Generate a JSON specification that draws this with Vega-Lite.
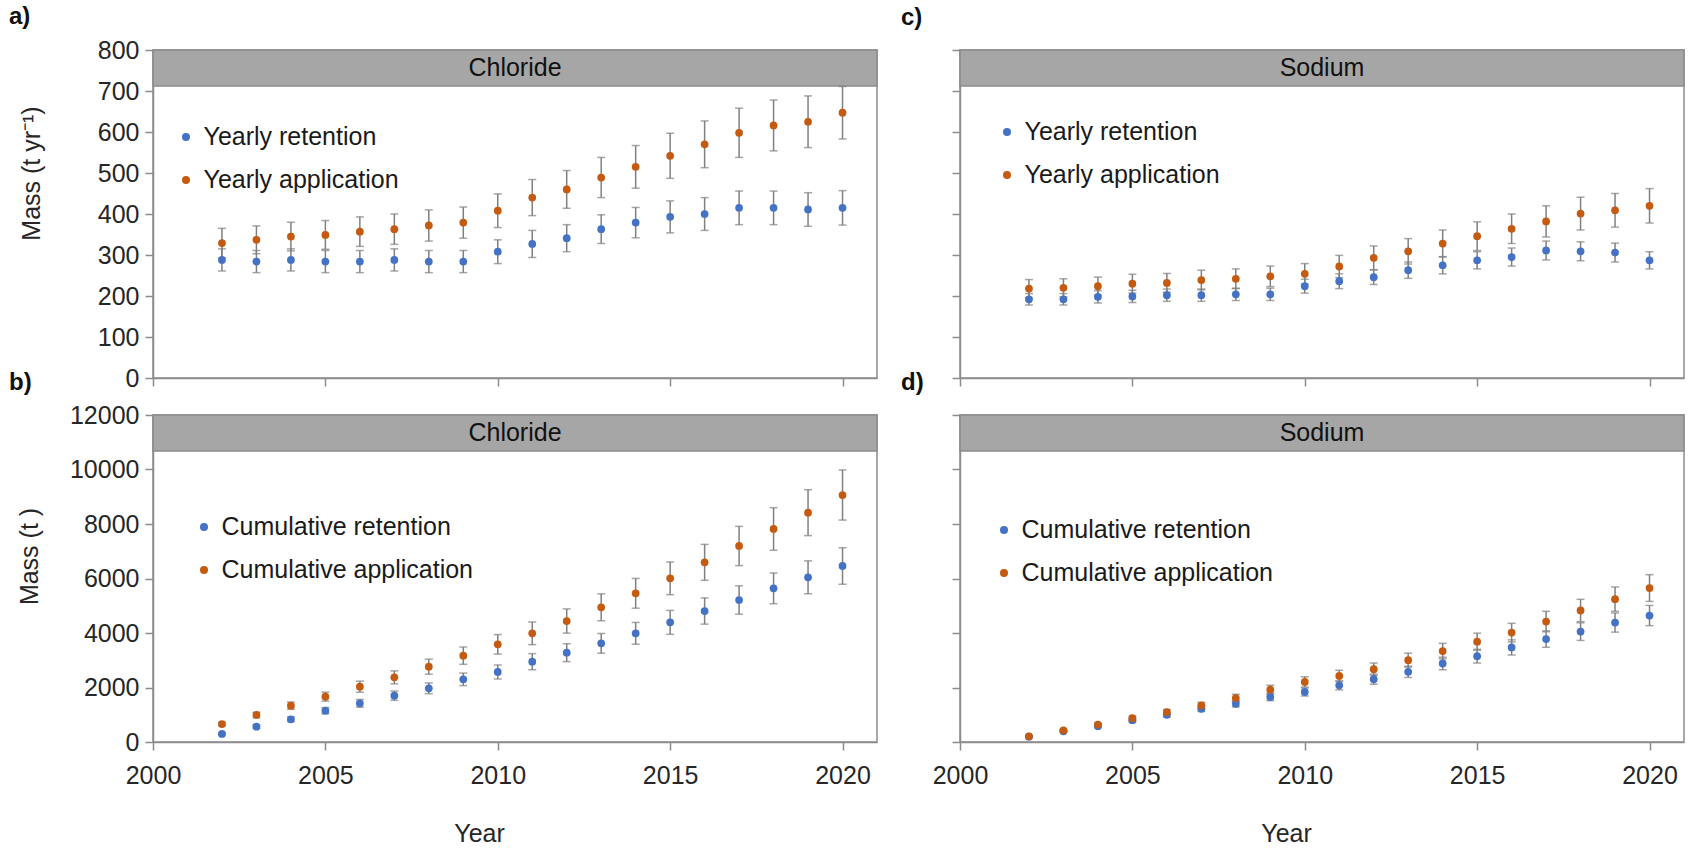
{
  "$schema": "https://vega.github.io/schema/vega-lite/v6.json",
  "padding": {"left": 8, "top": 4, "right": 4, "bottom": 4},
  "bounds": "flush",
  "columns": 2,
  "spacing": {"row": 37, "column": 83},
  "resolve": {"scale": {"color": "independent"}, "legend": {"color": "independent"}},
  "config": {
    "font": "Liberation Sans",
    "view": {"stroke": "#8c8c8c", "strokeWidth": 1.5},
    "title": {"anchor": "start", "frame": "group", "fontSize": 24, "fontWeight": "bold", "color": "#111111"},
    "axis": {
      "grid": false,
      "domainColor": "#8c8c8c", "domainWidth": 1.5,
      "tickColor": "#8c8c8c", "tickWidth": 1.5, "tickSize": 8,
      "labelFontSize": 25, "labelColor": "#262626", "labelPadding": 6,
      "labelFlush": false, "labelOverlap": false, "labelBound": false,
      "titleFontSize": 25, "titleFontWeight": "normal", "titleColor": "#262626",
      "titleBaseline": "middle", "titleAlign": "center", "minExtent": 0
    },
    "axisX": {"labelPadding": 13},
    "legend": {"orient": "none", "title": null, "symbolType": "circle", "symbolSize": 64, "symbolStrokeWidth": 0, "labelFontSize": 25, "labelColor": "#1a1a1a", "labelOffset": 5, "labelLimit": 600, "rowPadding": 17, "padding": 0}
  },
  "datasets": {
    "headers": [
      {"panel": "a", "element": "Chloride"},
      {"panel": "b", "element": "Chloride"},
      {"panel": "c", "element": "Sodium"},
      {"panel": "d", "element": "Sodium"}
    ],
    "mass": [
      {"panel": "a", "series": "Yearly retention", "year": 2002, "value": 288, "lo": 261, "hi": 315},
      {"panel": "a", "series": "Yearly retention", "year": 2003, "value": 284, "lo": 257, "hi": 311},
      {"panel": "a", "series": "Yearly retention", "year": 2004, "value": 288, "lo": 261, "hi": 315},
      {"panel": "a", "series": "Yearly retention", "year": 2005, "value": 284, "lo": 257, "hi": 311},
      {"panel": "a", "series": "Yearly retention", "year": 2006, "value": 284, "lo": 257, "hi": 311},
      {"panel": "a", "series": "Yearly retention", "year": 2007, "value": 288, "lo": 261, "hi": 315},
      {"panel": "a", "series": "Yearly retention", "year": 2008, "value": 284, "lo": 257, "hi": 311},
      {"panel": "a", "series": "Yearly retention", "year": 2009, "value": 284, "lo": 257, "hi": 311},
      {"panel": "a", "series": "Yearly retention", "year": 2010, "value": 308, "lo": 279, "hi": 337},
      {"panel": "a", "series": "Yearly retention", "year": 2011, "value": 327, "lo": 294, "hi": 360},
      {"panel": "a", "series": "Yearly retention", "year": 2012, "value": 341, "lo": 308, "hi": 374},
      {"panel": "a", "series": "Yearly retention", "year": 2013, "value": 363, "lo": 328, "hi": 398},
      {"panel": "a", "series": "Yearly retention", "year": 2014, "value": 379, "lo": 342, "hi": 416},
      {"panel": "a", "series": "Yearly retention", "year": 2015, "value": 393, "lo": 354, "hi": 432},
      {"panel": "a", "series": "Yearly retention", "year": 2016, "value": 400, "lo": 360, "hi": 440},
      {"panel": "a", "series": "Yearly retention", "year": 2017, "value": 415, "lo": 374, "hi": 456},
      {"panel": "a", "series": "Yearly retention", "year": 2018, "value": 415, "lo": 374, "hi": 456},
      {"panel": "a", "series": "Yearly retention", "year": 2019, "value": 411, "lo": 370, "hi": 452},
      {"panel": "a", "series": "Yearly retention", "year": 2020, "value": 415, "lo": 373, "hi": 457},
      {"panel": "a", "series": "Yearly application", "year": 2002, "value": 329, "lo": 293, "hi": 365},
      {"panel": "a", "series": "Yearly application", "year": 2003, "value": 337, "lo": 303, "hi": 371},
      {"panel": "a", "series": "Yearly application", "year": 2004, "value": 345, "lo": 310, "hi": 380},
      {"panel": "a", "series": "Yearly application", "year": 2005, "value": 349, "lo": 314, "hi": 384},
      {"panel": "a", "series": "Yearly application", "year": 2006, "value": 357, "lo": 321, "hi": 393},
      {"panel": "a", "series": "Yearly application", "year": 2007, "value": 363, "lo": 326, "hi": 400},
      {"panel": "a", "series": "Yearly application", "year": 2008, "value": 372, "lo": 334, "hi": 410},
      {"panel": "a", "series": "Yearly application", "year": 2009, "value": 379, "lo": 341, "hi": 417},
      {"panel": "a", "series": "Yearly application", "year": 2010, "value": 408, "lo": 367, "hi": 449},
      {"panel": "a", "series": "Yearly application", "year": 2011, "value": 440, "lo": 396, "hi": 484},
      {"panel": "a", "series": "Yearly application", "year": 2012, "value": 460, "lo": 414, "hi": 506},
      {"panel": "a", "series": "Yearly application", "year": 2013, "value": 489, "lo": 440, "hi": 538},
      {"panel": "a", "series": "Yearly application", "year": 2014, "value": 515, "lo": 463, "hi": 567},
      {"panel": "a", "series": "Yearly application", "year": 2015, "value": 542, "lo": 487, "hi": 597},
      {"panel": "a", "series": "Yearly application", "year": 2016, "value": 570, "lo": 513, "hi": 627},
      {"panel": "a", "series": "Yearly application", "year": 2017, "value": 598, "lo": 538, "hi": 658},
      {"panel": "a", "series": "Yearly application", "year": 2018, "value": 616, "lo": 554, "hi": 678},
      {"panel": "a", "series": "Yearly application", "year": 2019, "value": 625, "lo": 562, "hi": 688},
      {"panel": "a", "series": "Yearly application", "year": 2020, "value": 647, "lo": 583, "hi": 711},

      {"panel": "c", "series": "Yearly retention", "year": 2002, "value": 192, "lo": 178, "hi": 206},
      {"panel": "c", "series": "Yearly retention", "year": 2003, "value": 192, "lo": 178, "hi": 206},
      {"panel": "c", "series": "Yearly retention", "year": 2004, "value": 198, "lo": 183, "hi": 213},
      {"panel": "c", "series": "Yearly retention", "year": 2005, "value": 199, "lo": 184, "hi": 214},
      {"panel": "c", "series": "Yearly retention", "year": 2006, "value": 202, "lo": 187, "hi": 217},
      {"panel": "c", "series": "Yearly retention", "year": 2007, "value": 202, "lo": 187, "hi": 217},
      {"panel": "c", "series": "Yearly retention", "year": 2008, "value": 204, "lo": 189, "hi": 219},
      {"panel": "c", "series": "Yearly retention", "year": 2009, "value": 204, "lo": 189, "hi": 219},
      {"panel": "c", "series": "Yearly retention", "year": 2010, "value": 224, "lo": 207, "hi": 241},
      {"panel": "c", "series": "Yearly retention", "year": 2011, "value": 236, "lo": 218, "hi": 254},
      {"panel": "c", "series": "Yearly retention", "year": 2012, "value": 246, "lo": 228, "hi": 264},
      {"panel": "c", "series": "Yearly retention", "year": 2013, "value": 263, "lo": 243, "hi": 283},
      {"panel": "c", "series": "Yearly retention", "year": 2014, "value": 275, "lo": 254, "hi": 296},
      {"panel": "c", "series": "Yearly retention", "year": 2015, "value": 287, "lo": 266, "hi": 308},
      {"panel": "c", "series": "Yearly retention", "year": 2016, "value": 295, "lo": 273, "hi": 317},
      {"panel": "c", "series": "Yearly retention", "year": 2017, "value": 311, "lo": 288, "hi": 334},
      {"panel": "c", "series": "Yearly retention", "year": 2018, "value": 309, "lo": 286, "hi": 332},
      {"panel": "c", "series": "Yearly retention", "year": 2019, "value": 306, "lo": 283, "hi": 329},
      {"panel": "c", "series": "Yearly retention", "year": 2020, "value": 287, "lo": 266, "hi": 308},
      {"panel": "c", "series": "Yearly application", "year": 2002, "value": 218, "lo": 196, "hi": 240},
      {"panel": "c", "series": "Yearly application", "year": 2003, "value": 220, "lo": 198, "hi": 242},
      {"panel": "c", "series": "Yearly application", "year": 2004, "value": 224, "lo": 202, "hi": 246},
      {"panel": "c", "series": "Yearly application", "year": 2005, "value": 230, "lo": 207, "hi": 253},
      {"panel": "c", "series": "Yearly application", "year": 2006, "value": 232, "lo": 209, "hi": 255},
      {"panel": "c", "series": "Yearly application", "year": 2007, "value": 239, "lo": 215, "hi": 263},
      {"panel": "c", "series": "Yearly application", "year": 2008, "value": 242, "lo": 218, "hi": 266},
      {"panel": "c", "series": "Yearly application", "year": 2009, "value": 248, "lo": 223, "hi": 273},
      {"panel": "c", "series": "Yearly application", "year": 2010, "value": 254, "lo": 229, "hi": 279},
      {"panel": "c", "series": "Yearly application", "year": 2011, "value": 272, "lo": 245, "hi": 299},
      {"panel": "c", "series": "Yearly application", "year": 2012, "value": 293, "lo": 264, "hi": 322},
      {"panel": "c", "series": "Yearly application", "year": 2013, "value": 309, "lo": 278, "hi": 340},
      {"panel": "c", "series": "Yearly application", "year": 2014, "value": 328, "lo": 295, "hi": 361},
      {"panel": "c", "series": "Yearly application", "year": 2015, "value": 346, "lo": 311, "hi": 381},
      {"panel": "c", "series": "Yearly application", "year": 2016, "value": 364, "lo": 328, "hi": 400},
      {"panel": "c", "series": "Yearly application", "year": 2017, "value": 382, "lo": 344, "hi": 420},
      {"panel": "c", "series": "Yearly application", "year": 2018, "value": 401, "lo": 361, "hi": 441},
      {"panel": "c", "series": "Yearly application", "year": 2019, "value": 409, "lo": 368, "hi": 450},
      {"panel": "c", "series": "Yearly application", "year": 2020, "value": 420, "lo": 378, "hi": 462},

      {"panel": "b", "series": "Cumulative retention", "year": 2002, "value": 294, "lo": 264, "hi": 324},
      {"panel": "b", "series": "Cumulative retention", "year": 2003, "value": 562, "lo": 506, "hi": 618},
      {"panel": "b", "series": "Cumulative retention", "year": 2004, "value": 833, "lo": 750, "hi": 916},
      {"panel": "b", "series": "Cumulative retention", "year": 2005, "value": 1150, "lo": 1035, "hi": 1265},
      {"panel": "b", "series": "Cumulative retention", "year": 2006, "value": 1419, "lo": 1277, "hi": 1561},
      {"panel": "b", "series": "Cumulative retention", "year": 2007, "value": 1700, "lo": 1530, "hi": 1870},
      {"panel": "b", "series": "Cumulative retention", "year": 2008, "value": 1970, "lo": 1773, "hi": 2167},
      {"panel": "b", "series": "Cumulative retention", "year": 2009, "value": 2300, "lo": 2070, "hi": 2530},
      {"panel": "b", "series": "Cumulative retention", "year": 2010, "value": 2569, "lo": 2312, "hi": 2826},
      {"panel": "b", "series": "Cumulative retention", "year": 2011, "value": 2948, "lo": 2653, "hi": 3243},
      {"panel": "b", "series": "Cumulative retention", "year": 2012, "value": 3278, "lo": 2950, "hi": 3606},
      {"panel": "b", "series": "Cumulative retention", "year": 2013, "value": 3621, "lo": 3259, "hi": 3983},
      {"panel": "b", "series": "Cumulative retention", "year": 2014, "value": 3988, "lo": 3589, "hi": 4387},
      {"panel": "b", "series": "Cumulative retention", "year": 2015, "value": 4391, "lo": 3952, "hi": 4830},
      {"panel": "b", "series": "Cumulative retention", "year": 2016, "value": 4807, "lo": 4326, "hi": 5288},
      {"panel": "b", "series": "Cumulative retention", "year": 2017, "value": 5211, "lo": 4690, "hi": 5732},
      {"panel": "b", "series": "Cumulative retention", "year": 2018, "value": 5639, "lo": 5075, "hi": 6203},
      {"panel": "b", "series": "Cumulative retention", "year": 2019, "value": 6043, "lo": 5439, "hi": 6647},
      {"panel": "b", "series": "Cumulative retention", "year": 2020, "value": 6459, "lo": 5789, "hi": 7129},
      {"panel": "b", "series": "Cumulative application", "year": 2002, "value": 660, "lo": 594, "hi": 726},
      {"panel": "b", "series": "Cumulative application", "year": 2003, "value": 991, "lo": 892, "hi": 1090},
      {"panel": "b", "series": "Cumulative application", "year": 2004, "value": 1333, "lo": 1200, "hi": 1466},
      {"panel": "b", "series": "Cumulative application", "year": 2005, "value": 1664, "lo": 1498, "hi": 1830},
      {"panel": "b", "series": "Cumulative application", "year": 2006, "value": 2030, "lo": 1827, "hi": 2233},
      {"panel": "b", "series": "Cumulative application", "year": 2007, "value": 2373, "lo": 2136, "hi": 2610},
      {"panel": "b", "series": "Cumulative application", "year": 2008, "value": 2764, "lo": 2488, "hi": 3040},
      {"panel": "b", "series": "Cumulative application", "year": 2009, "value": 3168, "lo": 2851, "hi": 3485},
      {"panel": "b", "series": "Cumulative application", "year": 2010, "value": 3584, "lo": 3226, "hi": 3942},
      {"panel": "b", "series": "Cumulative application", "year": 2011, "value": 3988, "lo": 3573, "hi": 4403},
      {"panel": "b", "series": "Cumulative application", "year": 2012, "value": 4440, "lo": 3996, "hi": 4884},
      {"panel": "b", "series": "Cumulative application", "year": 2013, "value": 4942, "lo": 4448, "hi": 5436},
      {"panel": "b", "series": "Cumulative application", "year": 2014, "value": 5456, "lo": 4910, "hi": 6002},
      {"panel": "b", "series": "Cumulative application", "year": 2015, "value": 6006, "lo": 5406, "hi": 6606},
      {"panel": "b", "series": "Cumulative application", "year": 2016, "value": 6593, "lo": 5934, "hi": 7252},
      {"panel": "b", "series": "Cumulative application", "year": 2017, "value": 7193, "lo": 6474, "hi": 7912},
      {"panel": "b", "series": "Cumulative application", "year": 2018, "value": 7817, "lo": 7035, "hi": 8599},
      {"panel": "b", "series": "Cumulative application", "year": 2019, "value": 8416, "lo": 7574, "hi": 9258},
      {"panel": "b", "series": "Cumulative application", "year": 2020, "value": 9064, "lo": 8144, "hi": 9984},

      {"panel": "d", "series": "Cumulative retention", "year": 2002, "value": 195, "lo": 179, "hi": 211},
      {"panel": "d", "series": "Cumulative retention", "year": 2003, "value": 390, "lo": 359, "hi": 421},
      {"panel": "d", "series": "Cumulative retention", "year": 2004, "value": 580, "lo": 534, "hi": 626},
      {"panel": "d", "series": "Cumulative retention", "year": 2005, "value": 800, "lo": 736, "hi": 864},
      {"panel": "d", "series": "Cumulative retention", "year": 2006, "value": 997, "lo": 917, "hi": 1077},
      {"panel": "d", "series": "Cumulative retention", "year": 2007, "value": 1219, "lo": 1121, "hi": 1317},
      {"panel": "d", "series": "Cumulative retention", "year": 2008, "value": 1403, "lo": 1291, "hi": 1515},
      {"panel": "d", "series": "Cumulative retention", "year": 2009, "value": 1650, "lo": 1518, "hi": 1782},
      {"panel": "d", "series": "Cumulative retention", "year": 2010, "value": 1835, "lo": 1688, "hi": 1982},
      {"panel": "d", "series": "Cumulative retention", "year": 2011, "value": 2080, "lo": 1914, "hi": 2246},
      {"panel": "d", "series": "Cumulative retention", "year": 2012, "value": 2304, "lo": 2120, "hi": 2488},
      {"panel": "d", "series": "Cumulative retention", "year": 2013, "value": 2575, "lo": 2369, "hi": 2781},
      {"panel": "d", "series": "Cumulative retention", "year": 2014, "value": 2882, "lo": 2651, "hi": 3113},
      {"panel": "d", "series": "Cumulative retention", "year": 2015, "value": 3150, "lo": 2898, "hi": 3402},
      {"panel": "d", "series": "Cumulative retention", "year": 2016, "value": 3471, "lo": 3193, "hi": 3749},
      {"panel": "d", "series": "Cumulative retention", "year": 2017, "value": 3778, "lo": 3476, "hi": 4080},
      {"panel": "d", "series": "Cumulative retention", "year": 2018, "value": 4051, "lo": 3727, "hi": 4375},
      {"panel": "d", "series": "Cumulative retention", "year": 2019, "value": 4383, "lo": 4032, "hi": 4734},
      {"panel": "d", "series": "Cumulative retention", "year": 2020, "value": 4641, "lo": 4270, "hi": 5012},
      {"panel": "d", "series": "Cumulative application", "year": 2002, "value": 210, "lo": 192, "hi": 228},
      {"panel": "d", "series": "Cumulative application", "year": 2003, "value": 430, "lo": 393, "hi": 467},
      {"panel": "d", "series": "Cumulative application", "year": 2004, "value": 640, "lo": 586, "hi": 694},
      {"panel": "d", "series": "Cumulative application", "year": 2005, "value": 875, "lo": 801, "hi": 949},
      {"panel": "d", "series": "Cumulative application", "year": 2006, "value": 1097, "lo": 1004, "hi": 1190},
      {"panel": "d", "series": "Cumulative application", "year": 2007, "value": 1341, "lo": 1227, "hi": 1455},
      {"panel": "d", "series": "Cumulative application", "year": 2008, "value": 1613, "lo": 1476, "hi": 1750},
      {"panel": "d", "series": "Cumulative application", "year": 2009, "value": 1920, "lo": 1757, "hi": 2083},
      {"panel": "d", "series": "Cumulative application", "year": 2010, "value": 2204, "lo": 2017, "hi": 2391},
      {"panel": "d", "series": "Cumulative application", "year": 2011, "value": 2425, "lo": 2219, "hi": 2631},
      {"panel": "d", "series": "Cumulative application", "year": 2012, "value": 2671, "lo": 2444, "hi": 2898},
      {"panel": "d", "series": "Cumulative application", "year": 2013, "value": 3004, "lo": 2749, "hi": 3259},
      {"panel": "d", "series": "Cumulative application", "year": 2014, "value": 3337, "lo": 3053, "hi": 3621},
      {"panel": "d", "series": "Cumulative application", "year": 2015, "value": 3681, "lo": 3368, "hi": 3994},
      {"panel": "d", "series": "Cumulative application", "year": 2016, "value": 4014, "lo": 3673, "hi": 4355},
      {"panel": "d", "series": "Cumulative application", "year": 2017, "value": 4420, "lo": 4044, "hi": 4796},
      {"panel": "d", "series": "Cumulative application", "year": 2018, "value": 4826, "lo": 4416, "hi": 5236},
      {"panel": "d", "series": "Cumulative application", "year": 2019, "value": 5243, "lo": 4797, "hi": 5689},
      {"panel": "d", "series": "Cumulative application", "year": 2020, "value": 5650, "lo": 5160, "hi": 6140}
    ]
  },
  "concat": [
    {
      "width": 724, "height": 328,
      "title": {"text": "a)", "dx": -144, "offset": 9},
      "layer": [
        {
          "data": {"name": "headers"},
          "transform": [{"filter": "datum.panel == 'a'"}],
          "mark": {"type": "rect", "fill": "#a6a6a6", "stroke": "#8c8c8c", "strokeWidth": 1.5},
          "encoding": {
            "x": {"datum": 2000, "type": "quantitative", "scale": {"domain": [2000, 2021], "nice": false, "zero": false}},
            "x2": {"datum": 2021},
            "y": {"datum": 800, "type": "quantitative", "scale": {"domain": [0, 800], "nice": false}},
            "y2": {"datum": 712}
          }
        },
        {
          "data": {"name": "headers"},
          "transform": [{"filter": "datum.panel == 'a'"}],
          "mark": {"type": "text", "fontSize": 25, "baseline": "middle", "color": "#111111"},
          "encoding": {
            "x": {"datum": 2010.5, "type": "quantitative"},
            "y": {"datum": 756, "type": "quantitative"},
            "text": {"field": "element"}
          }
        },
        {
          "data": {"name": "mass"},
          "transform": [{"filter": "datum.panel == 'a'"}],
          "mark": {"type": "errorbar", "ticks": {"size": 8, "thickness": 1.5, "color": "#808080"}, "rule": {"strokeWidth": 1.5, "color": "#808080"}},
          "encoding": {
            "x": {"field": "year", "type": "quantitative"},
            "y": {"field": "lo", "type": "quantitative", "title": "Mass (t yr⁻¹)"},
            "y2": {"field": "hi"}
          }
        },
        {
          "data": {"name": "mass"},
          "transform": [{"filter": "datum.panel == 'a'"}],
          "mark": {"type": "point", "filled": true, "size": 60, "opacity": 1},
          "encoding": {
            "x": {"field": "year", "type": "quantitative", "scale": {"domain": [2000, 2021], "nice": false, "zero": false},
                  "axis": {"values": [2000, 2005, 2010, 2015, 2020], "labels": false, "title": null}},
            "y": {"field": "value", "type": "quantitative", "scale": {"domain": [0, 800], "nice": false},
                  "axis": {"values": [0, 100, 200, 300, 400, 500, 600, 700, 800], "title": "Mass (t yr⁻¹)", "titleX": -122, "titleY": 123}},
            "color": {"field": "series", "type": "nominal",
                      "scale": {"domain": ["Yearly retention", "Yearly application"], "range": ["#4472C4", "#C55A11"]},
                      "legend": {"legendX": 20.5, "legendY": 74.5}}
          }
        }
      ]
    },
    {
      "width": 724, "height": 328,
      "title": {"text": "c)", "dx": -59, "offset": 19},
      "layer": [
        {
          "data": {"name": "headers"},
          "transform": [{"filter": "datum.panel == 'c'"}],
          "mark": {"type": "rect", "fill": "#a6a6a6", "stroke": "#8c8c8c", "strokeWidth": 1.5},
          "encoding": {
            "x": {"datum": 2000, "type": "quantitative", "scale": {"domain": [2000, 2021], "nice": false, "zero": false}},
            "x2": {"datum": 2021},
            "y": {"datum": 800, "type": "quantitative", "scale": {"domain": [0, 800], "nice": false}},
            "y2": {"datum": 712}
          }
        },
        {
          "data": {"name": "headers"},
          "transform": [{"filter": "datum.panel == 'c'"}],
          "mark": {"type": "text", "fontSize": 25, "baseline": "middle", "color": "#111111"},
          "encoding": {
            "x": {"datum": 2010.5, "type": "quantitative"},
            "y": {"datum": 756, "type": "quantitative"},
            "text": {"field": "element"}
          }
        },
        {
          "data": {"name": "mass"},
          "transform": [{"filter": "datum.panel == 'c'"}],
          "mark": {"type": "errorbar", "ticks": {"size": 8, "thickness": 1.5, "color": "#808080"}, "rule": {"strokeWidth": 1.5, "color": "#808080"}},
          "encoding": {
            "x": {"field": "year", "type": "quantitative"},
            "y": {"field": "lo", "type": "quantitative"},
            "y2": {"field": "hi"}
          }
        },
        {
          "data": {"name": "mass"},
          "transform": [{"filter": "datum.panel == 'c'"}],
          "mark": {"type": "point", "filled": true, "size": 60, "opacity": 1},
          "encoding": {
            "x": {"field": "year", "type": "quantitative", "scale": {"domain": [2000, 2021], "nice": false, "zero": false},
                  "axis": {"values": [2000, 2005, 2010, 2015, 2020], "labels": false, "title": null}},
            "y": {"field": "value", "type": "quantitative", "scale": {"domain": [0, 800], "nice": false},
                  "axis": {"values": [0, 100, 200, 300, 400, 500, 600, 700, 800], "labels": false, "title": null}},
            "color": {"field": "series", "type": "nominal",
                      "scale": {"domain": ["Yearly retention", "Yearly application"], "range": ["#4472C4", "#C55A11"]},
                      "legend": {"legendX": 34.5, "legendY": 69.5}}
          }
        }
      ]
    },
    {
      "width": 724, "height": 327,
      "title": {"text": "b)", "dx": -144, "offset": 8},
      "layer": [
        {
          "data": {"name": "headers"},
          "transform": [{"filter": "datum.panel == 'b'"}],
          "mark": {"type": "rect", "fill": "#a6a6a6", "stroke": "#8c8c8c", "strokeWidth": 1.5},
          "encoding": {
            "x": {"datum": 2000, "type": "quantitative", "scale": {"domain": [2000, 2021], "nice": false, "zero": false}},
            "x2": {"datum": 2021},
            "y": {"datum": 12000, "type": "quantitative", "scale": {"domain": [0, 12000], "nice": false}},
            "y2": {"datum": 10679}
          }
        },
        {
          "data": {"name": "headers"},
          "transform": [{"filter": "datum.panel == 'b'"}],
          "mark": {"type": "text", "fontSize": 25, "baseline": "middle", "color": "#111111"},
          "encoding": {
            "x": {"datum": 2010.5, "type": "quantitative"},
            "y": {"datum": 11340, "type": "quantitative"},
            "text": {"field": "element"}
          }
        },
        {
          "data": {"name": "mass"},
          "transform": [{"filter": "datum.panel == 'b'"}],
          "mark": {"type": "errorbar", "ticks": {"size": 8, "thickness": 1.5, "color": "#808080"}, "rule": {"strokeWidth": 1.5, "color": "#808080"}},
          "encoding": {
            "x": {"field": "year", "type": "quantitative", "title": "Year"},
            "y": {"field": "lo", "type": "quantitative", "title": "Mass (t )"},
            "y2": {"field": "hi"}
          }
        },
        {
          "data": {"name": "mass"},
          "transform": [{"filter": "datum.panel == 'b'"}],
          "mark": {"type": "point", "filled": true, "size": 60, "opacity": 1},
          "encoding": {
            "x": {"field": "year", "type": "quantitative", "scale": {"domain": [2000, 2021], "nice": false, "zero": false},
                  "axis": {"values": [2000, 2005, 2010, 2015, 2020], "format": "d", "title": "Year", "titleX": 326, "titleY": 91}},
            "y": {"field": "value", "type": "quantitative", "scale": {"domain": [0, 12000], "nice": false},
                  "axis": {"values": [0, 2000, 4000, 6000, 8000, 10000, 12000], "format": "d", "title": "Mass (t )", "titleX": -124, "titleY": 141}},
            "color": {"field": "series", "type": "nominal",
                      "scale": {"domain": ["Cumulative retention", "Cumulative application"], "range": ["#4472C4", "#C55A11"]},
                      "legend": {"legendX": 38.5, "legendY": 99.5}}
          }
        }
      ]
    },
    {
      "width": 724, "height": 327,
      "title": {"text": "d)", "dx": -59, "offset": 19},
      "layer": [
        {
          "data": {"name": "headers"},
          "transform": [{"filter": "datum.panel == 'd'"}],
          "mark": {"type": "rect", "fill": "#a6a6a6", "stroke": "#8c8c8c", "strokeWidth": 1.5},
          "encoding": {
            "x": {"datum": 2000, "type": "quantitative", "scale": {"domain": [2000, 2021], "nice": false, "zero": false}},
            "x2": {"datum": 2021},
            "y": {"datum": 12000, "type": "quantitative", "scale": {"domain": [0, 12000], "nice": false}},
            "y2": {"datum": 10679}
          }
        },
        {
          "data": {"name": "headers"},
          "transform": [{"filter": "datum.panel == 'd'"}],
          "mark": {"type": "text", "fontSize": 25, "baseline": "middle", "color": "#111111"},
          "encoding": {
            "x": {"datum": 2010.5, "type": "quantitative"},
            "y": {"datum": 11340, "type": "quantitative"},
            "text": {"field": "element"}
          }
        },
        {
          "data": {"name": "mass"},
          "transform": [{"filter": "datum.panel == 'd'"}],
          "mark": {"type": "errorbar", "ticks": {"size": 8, "thickness": 1.5, "color": "#808080"}, "rule": {"strokeWidth": 1.5, "color": "#808080"}},
          "encoding": {
            "x": {"field": "year", "type": "quantitative", "title": "Year"},
            "y": {"field": "lo", "type": "quantitative"},
            "y2": {"field": "hi"}
          }
        },
        {
          "data": {"name": "mass"},
          "transform": [{"filter": "datum.panel == 'd'"}],
          "mark": {"type": "point", "filled": true, "size": 60, "opacity": 1},
          "encoding": {
            "x": {"field": "year", "type": "quantitative", "scale": {"domain": [2000, 2021], "nice": false, "zero": false},
                  "axis": {"values": [2000, 2005, 2010, 2015, 2020], "format": "d", "title": "Year", "titleX": 326, "titleY": 91}},
            "y": {"field": "value", "type": "quantitative", "scale": {"domain": [0, 12000], "nice": false},
                  "axis": {"values": [0, 2000, 4000, 6000, 8000, 10000, 12000], "labels": false, "title": null}},
            "color": {"field": "series", "type": "nominal",
                      "scale": {"domain": ["Cumulative retention", "Cumulative application"], "range": ["#4472C4", "#C55A11"]},
                      "legend": {"legendX": 31.5, "legendY": 102.5}}
          }
        }
      ]
    }
  ]
}
